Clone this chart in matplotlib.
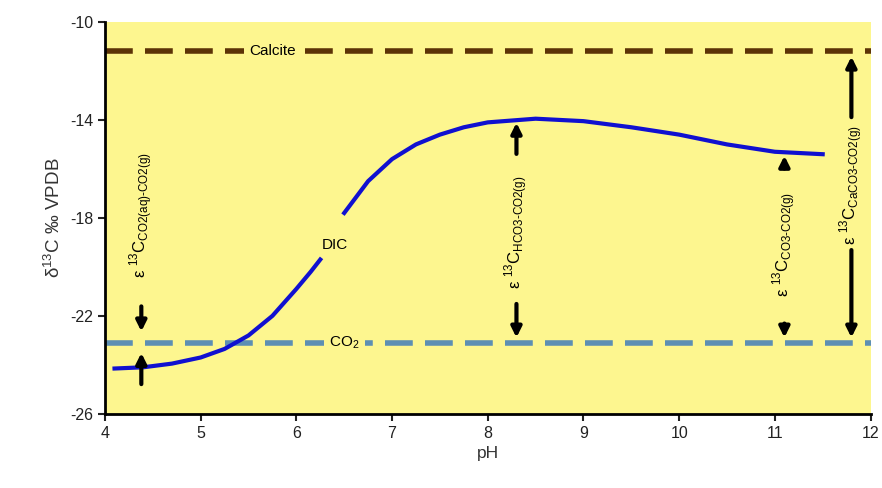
import numpy as np
import matplotlib.pyplot as plt

plt.rcParams['font.family'] = ['Liberation Sans', 'DejaVu Sans']
plt.rcParams['mathtext.fontset'] = 'custom'
plt.rcParams['mathtext.rm'] = 'Liberation Sans'
plt.rcParams['axes.unicode_minus'] = False

# DIC curve (two pieces, gap for the label)
ph_low = [4.1, 4.4, 4.7, 5.0, 5.25, 5.5, 5.75, 6.0, 6.15, 6.25]
dic_low = [-24.15, -24.1, -23.95, -23.7, -23.35, -22.8, -22.0, -20.9, -20.2, -19.7]
ph_high = [6.5, 6.75, 7.0, 7.25, 7.5, 7.75, 8.0, 8.5, 9.0, 9.5, 10.0, 10.5, 11.0, 11.5]
dic_high = [-17.8, -16.5, -15.6, -15.0, -14.6, -14.3, -14.1, -13.95, -14.05, -14.3,
            -14.6, -15.0, -15.3, -15.4]

calcite = -11.2
co2 = -23.1

bg = '#fdf68f'

fig = plt.figure(figsize=(8.82, 4.88), dpi=100)
ax = fig.add_axes([0.119, 0.152, 0.868, 0.803])
ax.set_facecolor(bg)

ax.plot([4, 12], [calcite, calcite], color='#5c3306', lw=4, dashes=(5, 2.2), zorder=2)
ax.plot([4, 12], [co2, co2], color='#5d8fb3', lw=4, dashes=(5, 2.2), zorder=2)
ax.plot(ph_low, dic_low, color='#1010d0', lw=3, zorder=3)
ax.plot(ph_high, dic_high, color='#1010d0', lw=3, zorder=3)

ax.text(5.75, calcite, 'Calcite', fontsize=11, ha='center', va='center',
        bbox=dict(facecolor=bg, edgecolor='none', pad=4), zorder=4)
ax.text(6.5, co2, r'CO$_\mathregular{2}$', fontsize=11, ha='center', va='center',
        bbox=dict(facecolor=bg, edgecolor='none', pad=4), zorder=4)
ax.text(6.4, -19.1, 'DIC', fontsize=11, ha='center', va='center')

aprops = dict(arrowstyle='-|>', color='black', lw=3, mutation_scale=15)


def eps_label(sub):
    return 'ε $^{13}$C$_{\\text{' + sub + '}}$'


# left pair: arrows pointing to the CO2 line and DIC curve from outside
ax.annotate('', xy=(4.38, -22.75), xytext=(4.38, -21.5), arrowprops=aprops)
ax.annotate('', xy=(4.38, -23.4), xytext=(4.38, -24.9), arrowprops=aprops)
ax.text(4.38, -17.9, eps_label('CO2(aq)-CO2(g)'),
        rotation=90, fontsize=12, ha='center', va='center')

ax.annotate('', xy=(8.3, -14.0), xytext=(8.3, -15.5), arrowprops=aprops)
ax.annotate('', xy=(8.3, -23.0), xytext=(8.3, -21.4), arrowprops=aprops)
ax.text(8.3, -18.6, eps_label('HCO3-CO2(g)'),
        rotation=90, fontsize=12, ha='center', va='center')

ax.annotate('', xy=(11.1, -15.35), xytext=(11.1, -16.1), arrowprops=aprops)
ax.annotate('', xy=(11.1, -23.0), xytext=(11.1, -22.2), arrowprops=aprops)
ax.text(11.1, -19.1, eps_label('CO3-CO2(g)'),
        rotation=90, fontsize=12, ha='center', va='center')

ax.annotate('', xy=(11.8, -11.3), xytext=(11.8, -14.0), arrowprops=aprops)
ax.annotate('', xy=(11.8, -23.0), xytext=(11.8, -19.2), arrowprops=aprops)
ax.text(11.8, -16.65, eps_label('CaCO3-CO2(g)'),
        rotation=90, fontsize=12, ha='center', va='center')

ax.set_xlim(4, 12)
ax.set_ylim(-26, -10)
ax.set_xticks(range(4, 13))
ax.set_yticks([-10, -14, -18, -22, -26])
ax.tick_params(direction='out', length=5, width=1.5, labelsize=11.5, colors='#222222')
for s in ['top', 'right']:
    ax.spines[s].set_visible(False)
for s in ['left', 'bottom']:
    ax.spines[s].set_linewidth(2)
ax.set_xlabel('pH', fontsize=12.5, color='#333333')
ax.set_ylabel('δ$^{13}$C ‰ VPDB', fontsize=13.5, color='#333333')

fig.savefig('out.png')
